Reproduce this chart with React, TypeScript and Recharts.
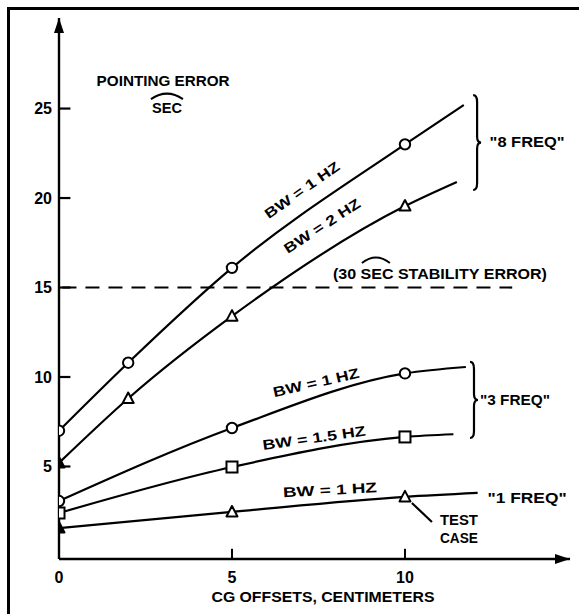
import { LineChart, Line, XAxis, YAxis, ReferenceLine, ReferenceDot, ReferenceArea } from 'recharts'

const X_MAX = 14.77
const Y_MIN = -0.17
const Y_MAX = 30.06

// CG offset (cm) / pointing error (sec)
const freq8Bw1Offsets = [0, 2, 5, 10, 11.7]
const freq8Bw1Errors = [7.0, 10.8, 16.1, 23.0, 25.2]
const freq8Bw2Offsets = [0, 2, 5, 10, 11.5]
const freq8Bw2Errors = [5.2, 8.8, 13.4, 19.55, 20.9]
const freq3Bw1Offsets = [0, 5, 10, 11.76]
const freq3Bw1Errors = [3.07, 7.15, 10.2, 10.56]
const freq3Bw15Offsets = [0, 5, 10, 11.4]
const freq3Bw15Errors = [2.4, 4.97, 6.65, 6.8]
const freq1Bw1Offsets = [0, 5, 10, 12.1]
const freq1Bw1Errors = [1.56, 2.46, 3.3, 3.52]

const xTicks = [0, 5, 10]
const yTicks = [5, 10, 15, 20, 25]
const stabilityError = 15

const FONT = "'Liberation Sans', Arial, sans-serif"
const INK = '#000'

type Marker = 'circle' | 'triangle' | 'square'

const toPoints = (xs: number[], ys: number[]) => xs.map((x, i) => ({ x, y: ys[i] }))

const series = [
  { id: 's8a', data: toPoints(freq8Bw1Offsets, freq8Bw1Errors), marker: 'circle' as Marker, filledFirst: false },
  { id: 's8b', data: toPoints(freq8Bw2Offsets, freq8Bw2Errors), marker: 'triangle' as Marker, filledFirst: true },
  { id: 's3a', data: toPoints(freq3Bw1Offsets, freq3Bw1Errors), marker: 'circle' as Marker, filledFirst: false },
  { id: 's3b', data: toPoints(freq3Bw15Offsets, freq3Bw15Errors), marker: 'square' as Marker, filledFirst: false },
  { id: 's1', data: toPoints(freq1Bw1Offsets, freq1Bw1Errors), marker: 'triangle' as Marker, filledFirst: true },
]

// annotation placement, in data units
const lineLabels = [
  { text: 'BW = 1 HZ', x: 7.02, y: 20.45, angle: -35, len: 88 },
  { text: 'BW = 2 HZ', x: 7.6, y: 18.45, angle: -33, len: 88 },
  { text: 'BW = 1 HZ', x: 7.43, y: 9.7, angle: -13, len: 88 },
  { text: 'BW = 1.5 HZ', x: 7.37, y: 6.6, angle: -8, len: 104 },
  { text: 'BW = 1 HZ', x: 7.83, y: 3.7, angle: -3, len: 94 },
]

const plainLabels = [
  { text: 'POINTING ERROR', x: 3.01, y: 26.59, len: 133, size: 15 },
  { text: 'SEC', x: 3.12, y: 25.03, len: 30, size: 14 },
  { text: '(30 SEC STABILITY ERROR)', x: 11.01, y: 15.81, len: 214, size: 15 },
  { text: '"8 FREQ"', x: 13.53, y: 23.13, len: 75, size: 14 },
  { text: '"3 FREQ"', x: 13.18, y: 8.72, len: 70, size: 14 },
  { text: '"1 FREQ"', x: 13.53, y: 3.24, len: 79, size: 14 },
  { text: 'TEST', x: 11.56, y: 2.01, len: 38, size: 14 },
  { text: 'CASE', x: 11.56, y: 1.0, len: 38, size: 14 },
  { text: 'CG OFFSETS, CENTIMETERS', x: 7.63, y: -2.29, len: 223, size: 15 },
]

const secArcs = [
  { x: 3.12, y: 25.75, w: 32 },
  { x: 9.16, y: 16.59, w: 28 },
]

const braces = [
  { x1: 11.97, x2: 12.2, y1: 20.45, y2: 25.75 },
  { x1: 11.88, x2: 12.11, y1: 6.59, y2: 10.84 },
]

function makeDot(id: string, marker: Marker, filledFirst: boolean, count: number) {
  return (props: any) => {
    const { cx, cy, index } = props
    const key = `${id}-${index}`
    if (cx == null || cy == null || index === count - 1) return <g key={key} />
    const fill = filledFirst && index === 0 ? INK : '#fff'
    if (marker === 'circle') {
      return <circle key={key} cx={cx} cy={cy} r={5.2} fill={fill} stroke={INK} strokeWidth={2} />
    }
    if (marker === 'square') {
      return <rect key={key} x={cx - 5.5} y={cy - 5.5} width={11} height={11} fill={fill} stroke={INK} strokeWidth={2} />
    }
    return (
      <polygon
        key={key}
        points={`${cx},${cy - 6} ${cx - 5.5},${cy + 4.5} ${cx + 5.5},${cy + 4.5}`}
        fill={fill}
        stroke={INK}
        strokeWidth={2}
        strokeLinejoin="round"
      />
    )
  }
}

const textProps = {
  fontFamily: FONT,
  fontWeight: 700,
  fill: INK,
  textAnchor: 'middle' as const,
  dominantBaseline: 'central' as const,
  lengthAdjust: 'spacingAndGlyphs' as const,
}

export default function App() {
  return (
    <div style={{ position: 'relative', width: 579, height: 614, background: '#fff', overflow: 'hidden' }}>
      <style>{'body{margin:0}'}</style>
      {/* arrowhead used on both axis lines */}
      <svg width={0} height={0} style={{ position: 'absolute' }}>
        <defs>
          <marker
            id="axisArrow"
            viewBox="0 0 15 10"
            refX={15}
            refY={5}
            markerWidth={15}
            markerHeight={10}
            markerUnits="userSpaceOnUse"
            orient="auto-start-reverse"
          >
            <path d="M0,0 L15,5 L0,10 z" fill={INK} />
          </marker>
        </defs>
      </svg>
      <div
        style={{
          position: 'absolute',
          left: 7,
          top: 7,
          width: 600,
          height: 640,
          borderTop: '3px solid #000',
          borderLeft: '3px solid #000',
        }}
      />
      <div style={{ position: 'absolute', left: 0, top: 0 }}>
        <LineChart width={579} height={614} margin={{ top: 18, right: 9, left: 8, bottom: 0 }}>
          <XAxis
            dataKey="x"
            type="number"
            domain={[0, X_MAX]}
            ticks={xTicks}
            allowDataOverflow
            height={55}
            tickSize={0}
            tickMargin={13}
            axisLine={{ stroke: INK, strokeWidth: 2.4, markerEnd: 'url(#axisArrow)' }}
            tick={{ fill: INK, fontSize: 16, fontWeight: 700, fontFamily: FONT }}
          />
          <YAxis
            dataKey="y"
            type="number"
            domain={[Y_MIN, Y_MAX]}
            ticks={yTicks}
            allowDataOverflow
            width={51}
            tickSize={0}
            tickMargin={7}
            axisLine={{ stroke: INK, strokeWidth: 2.4, markerStart: 'url(#axisArrow)' }}
            tick={{ fill: INK, fontSize: 16, fontWeight: 700, fontFamily: FONT }}
          />

          {yTicks.map((v) => (
            <ReferenceLine
              key={`yt-${v}`}
              segment={[{ x: 0, y: v }, { x: 0.33, y: v }]}
              stroke={INK}
              strokeWidth={2.2}
            />
          ))}
          {xTicks.filter((v) => v > 0).map((v) => (
            <ReferenceLine
              key={`xt-${v}`}
              segment={[{ x: v, y: Y_MIN }, { x: v, y: 0.4 }]}
              stroke={INK}
              strokeWidth={2}
            />
          ))}

          <ReferenceLine
            segment={[{ x: 0.1, y: stabilityError }, { x: 13.1, y: stabilityError }]}
            stroke={INK}
            strokeWidth={2.2}
            strokeDasharray="14 9"
          />

          {series.map((s) => (
            <Line
              key={s.id}
              data={s.data}
              dataKey="y"
              type="monotone"
              stroke={INK}
              strokeWidth={2.2}
              dot={makeDot(s.id, s.marker, s.filledFirst, s.data.length)}
              activeDot={false}
              isAnimationActive={false}
            />
          ))}

          {/* TEST CASE leader */}
          <ReferenceLine
            segment={[{ x: 10.2, y: 2.96 }, { x: 10.78, y: 1.9 }]}
            stroke={INK}
            strokeWidth={2.2}
          />

          {braces.map((b, i) => (
            <ReferenceArea
              key={`br-${i}`}
              x1={b.x1}
              x2={b.x2}
              y1={b.y1}
              y2={b.y2}
              ifOverflow="visible"
              shape={(p: any) => {
                const { x, y, width: w, height: h } = p
                const xm = x + w * 0.5
                const ym = y + h / 2
                const d = `M${x},${y} Q${xm},${y} ${xm},${y + 7} L${xm},${ym - 6} Q${xm},${ym} ${x + w},${ym} Q${xm},${ym} ${xm},${ym + 6} L${xm},${y + h - 7} Q${xm},${y + h} ${x},${y + h}`
                return <path d={d} fill="none" stroke={INK} strokeWidth={2.2} />
              }}
            />
          ))}

          {lineLabels.map((l, i) => (
            <ReferenceDot
              key={`ll-${i}`}
              x={l.x}
              y={l.y}
              ifOverflow="visible"
              shape={(p: any) => (
                <text
                  {...textProps}
                  x={p.cx}
                  y={p.cy}
                  fontSize={14}
                  textLength={l.len}
                  transform={`rotate(${l.angle} ${p.cx} ${p.cy})`}
                >
                  {l.text}
                </text>
              )}
            />
          ))}

          {plainLabels.map((l, i) => (
            <ReferenceDot
              key={`pl-${i}`}
              x={l.x}
              y={l.y}
              ifOverflow="visible"
              shape={(p: any) => (
                <text {...textProps} x={p.cx} y={p.cy} fontSize={l.size} textLength={l.len}>
                  {l.text}
                </text>
              )}
            />
          ))}

          {secArcs.map((a, i) => (
            <ReferenceDot
              key={`arc-${i}`}
              x={a.x}
              y={a.y}
              ifOverflow="visible"
              shape={(p: any) => (
                <path
                  d={`M${p.cx - a.w / 2},${p.cy + 4} Q${p.cx},${p.cy - 7} ${p.cx + a.w / 2},${p.cy + 4}`}
                  fill="none"
                  stroke={INK}
                  strokeWidth={2}
                />
              )}
            />
          ))}
        </LineChart>
      </div>
    </div>
  )
}
